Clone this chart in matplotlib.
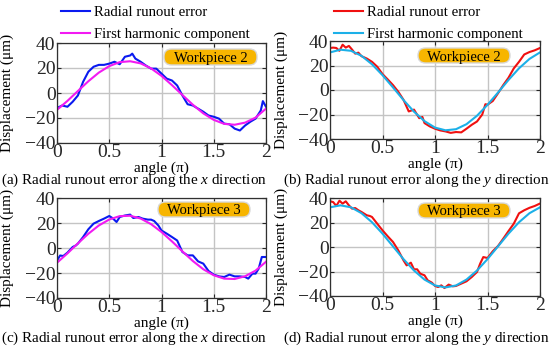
import matplotlib
matplotlib.use("Agg")
import matplotlib.pyplot as plt
from matplotlib.patches import FancyBboxPatch
from matplotlib.transforms import IdentityTransform

plt.rcParams['font.family'] = ['Liberation Serif', 'DejaVu Serif']
plt.rcParams['mathtext.fontset'] = 'custom'
plt.rcParams['mathtext.rm'] = 'Liberation Serif'
plt.rcParams['mathtext.it'] = 'Liberation Serif:italic'

# harmonic curves sampled every 0.1 pi
x_h = [0, 0.1, 0.2, 0.3, 0.4, 0.5, 0.6, 0.7, 0.8, 0.9, 1.0,
       1.1, 1.2, 1.3, 1.4, 1.5, 1.6, 1.7, 1.8, 1.9, 2.0]

# (a) workpiece 2, x direction
xa = [0, 0.05, 0.1, 0.15, 0.2, 0.25, 0.3, 0.35, 0.4, 0.45, 0.5, 0.55, 0.6, 0.65, 0.7, 0.72,
      0.75, 0.8, 0.85, 0.9, 0.95, 1.0, 1.05, 1.1, 1.15, 1.2, 1.25, 1.3, 1.35, 1.4, 1.45,
      1.5, 1.55, 1.6, 1.65, 1.7, 1.75, 1.8, 1.85, 1.9, 1.95, 1.97, 2.0]
ya = [-12, -10, -11, -7, -2, 9, 17, 21, 22.5, 22.5, 23.5, 25, 23, 29, 30, 31.5,
      27.5, 25, 22, 19.5, 19.5, 15.5, 11.5, 10, 6, -2, -9, -10, -12.5, -15, -18,
      -19, -20.5, -24.5, -25, -28.5, -30, -26, -23, -20.5, -14, -6.5, -11]
ha = [-13.5, -6.3, 1.6, 9.4, 16.3, 21.5, 24.7, 25.4, 23.7, 19.7, 13.7,
      6.3, -1.6, -9.4, -16.3, -21.5, -24.7, -25.4, -23.7, -19.7, -12.5]

# (b) workpiece 2, y direction
xb = [0, 0.03, 0.06, 0.09, 0.12, 0.15, 0.18, 0.21, 0.24, 0.27, 0.3, 0.35, 0.4, 0.45, 0.5,
      0.55, 0.6, 0.65, 0.7, 0.75, 0.8, 0.85, 0.88, 0.9, 0.95, 1.0, 1.05, 1.1, 1.15, 1.2,
      1.25, 1.3, 1.35, 1.4, 1.45, 1.48, 1.5, 1.55, 1.6, 1.65, 1.7, 1.75, 1.8, 1.85, 1.9,
      1.95, 2.0]
yb = [34.3, 34.6, 34.3, 32, 37, 34.6, 36, 33, 29.7, 30.5, 27.6, 25.7, 23, 19, 13,
      8.6, 4, -1.4, -8, -17.5, -16, -23, -22, -27, -29.7, -31.6, -33, -33.8, -35, -34.3,
      -34.6, -31.6, -28.4, -25.7, -20, -11.6, -12, -9, -2.7, 4, 10, 17.6, 23, 29, 31,
      32.4, 34.3]
hb = [30.7, 32.9, 32.0, 27.9, 21.0, 12.1, 2.1, -8.2, -17.7, -25.4, -30.7,
      -32.9, -32.0, -27.9, -21.0, -12.1, -2.1, 8.2, 17.7, 25.4, 30.7]

# (c) workpiece 3, x direction
xc = [0, 0.03, 0.06, 0.1, 0.15, 0.18, 0.2, 0.25, 0.3, 0.35, 0.4, 0.45, 0.5, 0.53, 0.57,
      0.6, 0.65, 0.7, 0.73, 0.78, 0.82, 0.87, 0.9, 0.93, 0.97, 1.0, 1.05, 1.1, 1.15, 1.2,
      1.25, 1.3, 1.35, 1.4, 1.45, 1.5, 1.55, 1.6, 1.65, 1.7, 1.75, 1.8, 1.83, 1.87, 1.9,
      1.93, 1.96, 2.0]
yc = [-10, -6, -6.4, -3.7, 0.8, 2, 3.5, 8.8, 15, 19.5, 21.6, 23.5, 25.6, 24, 20.8,
      24.8, 26, 26.7, 24, 24.8, 23.5, 22.7, 22.7, 21.6, 18, 14, 11.5, 8.8, 6, -3.2,
      -5.9, -5.9, -10.7, -12.5, -18.4, -21.3, -22.7, -23.2, -21.3, -22.7, -22.7, -23.2, -24.5, -20.5, -20.5,
      -16.5, -7.2, -7.2]
hc = [-11.8, -4.3, 3.7, 11.4, 18.0, 22.8, 25.5, 25.8, 23.6, 19.1, 12.8,
      5.3, -2.7, -10.4, -17.0, -21.8, -24.5, -24.8, -22.6, -18.1, -11.0]

# (d) workpiece 3, y direction
xd = [0, 0.03, 0.06, 0.09, 0.12, 0.15, 0.18, 0.21, 0.24, 0.27, 0.3, 0.35, 0.38, 0.4, 0.45,
      0.5, 0.55, 0.6, 0.65, 0.7, 0.73, 0.77, 0.8, 0.83, 0.86, 0.9, 0.93, 0.97, 1.0, 1.03,
      1.06, 1.09, 1.13, 1.17, 1.2, 1.25, 1.3, 1.35, 1.4, 1.43, 1.46, 1.5, 1.55, 1.6, 1.65,
      1.7, 1.75, 1.8, 1.85, 1.9, 1.95, 2.0]
yd = [37.3, 36.7, 33.5, 37.8, 35.4, 37.3, 34, 31.3, 31.8, 30, 28.6, 25.9, 25.3, 24.5, 19,
      13.6, 8.7, 4.1, -2.7, -10.9, -15, -12.8, -18.2, -18.2, -21.8, -23.1, -27.2, -29.1, -31.8, -32.7,
      -31.3, -33.5, -30.7, -32.1, -31.8, -29.9, -28, -24.5, -20.4, -13.6, -8.2, -9, -3.5, 0.8, 6.8,
      13, 19, 27.5, 30, 32, 33.5, 35.5]
hd = [32.4, 34.0, 32.4, 27.6, 20.2, 10.9, 0.5, -9.9, -19.2, -26.6, -31.4,
      -33.0, -31.4, -26.6, -19.2, -9.9, 0.5, 10.9, 20.2, 27.6, 32.4]

W, H = 550, 351
fig = plt.figure(figsize=(5.5, 3.51), dpi=100)


def px_axes(left, top, right, bottom):
    return fig.add_axes([left / W, 1 - bottom / H, (right - left) / W, (bottom - top) / H])


def style(ax):
    ax.set_xlim(0, 2)
    ax.set_ylim(-40, 40)
    ax.set_xticks([0, 0.5, 1, 1.5, 2])
    ax.set_xticklabels(['0', '0.5', '1', '1.5', '2'])
    ax.set_yticks([-40, -20, 0, 20, 40])
    ax.grid(True, color='#c4c4c4', linewidth=1.0)
    ax.tick_params(direction='in', length=3, labelsize=14, pad=1, colors='#262626',
                   top=True, right=True)
    for s in ax.spines.values():
        s.set_color('#303030')
        s.set_linewidth(0.9)
    ax.set_xlabel('angle (π)', fontsize=11)
    ax.set_ylabel('Displacement (μm)', fontsize=11)


panels = [
    (px_axes(57, 43, 266, 143), xa, ya, ha, '#0a1af0', '#f21af2', 'Workpiece 2', (164, 49, 257, 65)),
    (px_axes(330, 41, 540, 139), xb, yb, hb, '#f01010', '#1cb0e8', 'Workpiece 2', (418, 48, 510, 63)),
    (px_axes(57, 198, 266, 298), xc, yc, hc, '#0a1af0', '#f21af2', 'Workpiece 3', (158, 202, 250, 217)),
    (px_axes(330, 198, 540, 296), xd, yd, hd, '#f01010', '#1cb0e8', 'Workpiece 3', (418, 203, 510, 218)),
]

for i, (ax, xr, yr, hh, c1, c2, tag, box) in enumerate(panels):
    style(ax)
    ax.plot(xr, yr, color=c1, lw=1.5, label='Radial runout error')
    ax.plot(x_h, hh, color=c2, lw=1.5, label='First harmonic component')

    x0, y0, x1, y1 = box
    fig.add_artist(FancyBboxPatch((x0, H - y1), x1 - x0, y1 - y0,
                                  boxstyle='round,pad=0,rounding_size=7.5',
                                  fc='#f7b500', ec='#d8d8d8', lw=1.0,
                                  transform=IdentityTransform()))
    fig.text((x0 + x1) / 2 / W, 1 - (y0 + y1) / 2 / H, tag, fontsize=10.5,
             ha='center', va='center_baseline')

    if i % 2 == 0:
        ax.yaxis.set_label_coords((14 - 57) / 209, 0.5)
    else:
        ax.yaxis.set_label_coords((288 - 330) / 210, 0.5)
    ax.xaxis.set_label_coords(0.5, -0.19)

    if i < 2:
        lx = 61 if i == 0 else 334
        ax.legend(loc='upper left', bbox_to_anchor=(lx / W, 1 - 6 / H),
                  bbox_transform=fig.transFigure, frameon=False, fontsize=10.6,
                  handlelength=2.0, handletextpad=0.25, labelspacing=0.55,
                  borderpad=0, borderaxespad=0)

captions = [
    (1, 180, '(a) Radial runout error along the $x$ direction'),
    (283, 180, '(b) Radial runout error along the $y$ direction'),
    (1, 338, '(c) Radial runout error along the $x$ direction'),
    (283, 338, '(d) Radial runout error along the $y$ direction'),
]
for cx, cy, txt in captions:
    fig.text(cx / W, 1 - cy / H, txt, fontsize=10.9, ha='left', va='center')

fig.savefig('out.png', dpi=100)
